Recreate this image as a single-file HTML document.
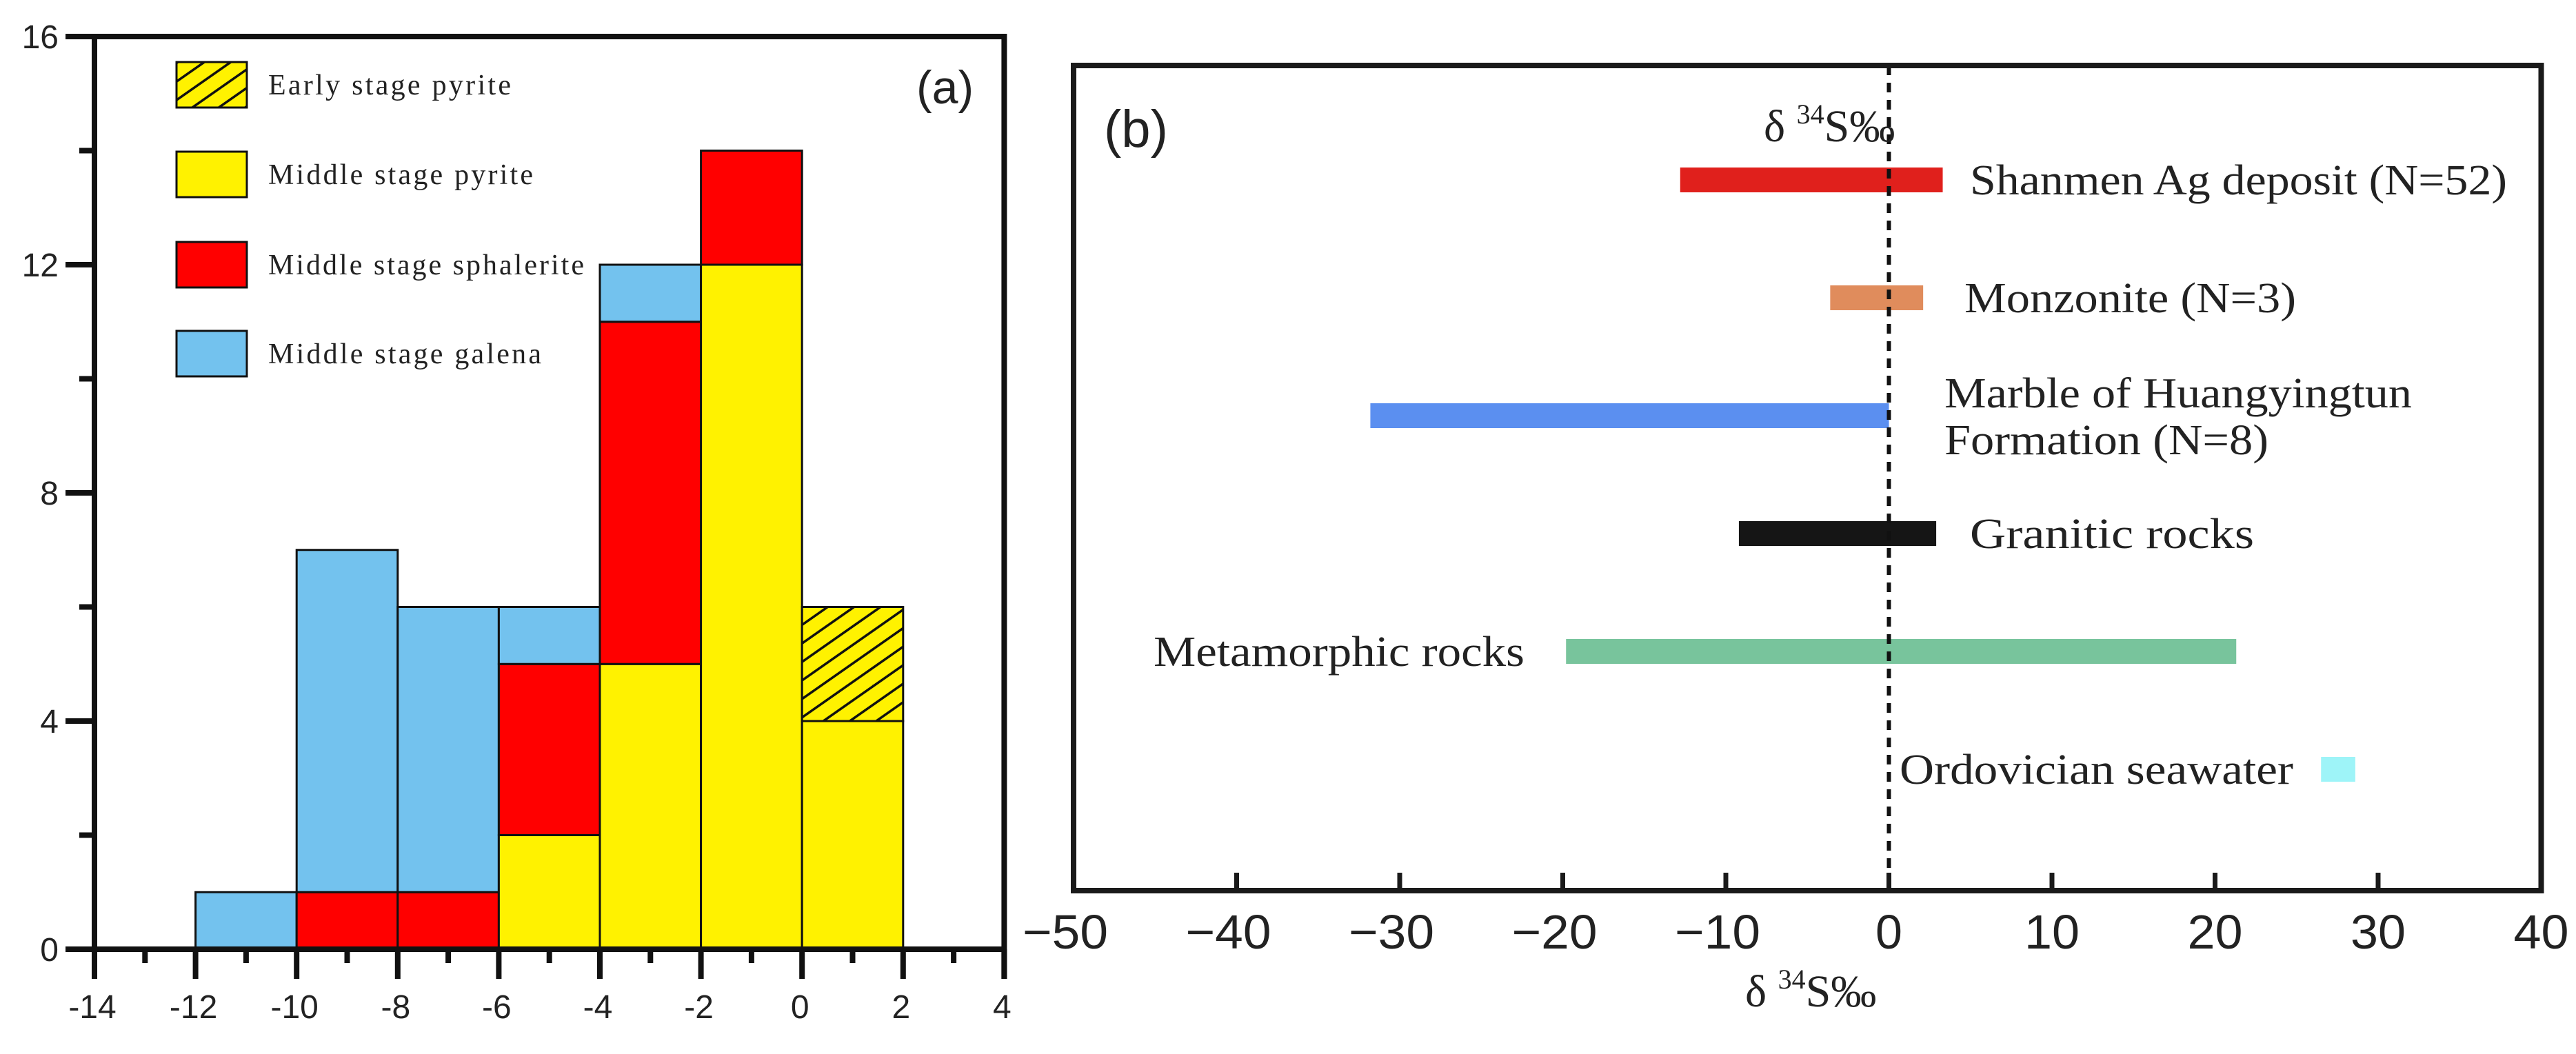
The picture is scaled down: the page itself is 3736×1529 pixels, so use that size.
<!DOCTYPE html>
<html><head><meta charset="utf-8"><style>
html,body{margin:0;padding:0;background:#fff;}
svg{display:block;}
.sans{font-family:"Liberation Sans",sans-serif;fill:#222;}
.serif{font-family:"Liberation Serif",serif;fill:#222;}
</style></head><body>
<svg id="fig" width="3736" height="1529" viewBox="0 0 3736 1529" xmlns="http://www.w3.org/2000/svg">
<defs>
<pattern id="hatch" patternUnits="userSpaceOnUse" width="22" height="22" patternTransform="rotate(-35)">
<rect width="22" height="22" fill="#fff200"/>
<line x1="0" y1="0" x2="22" y2="0" stroke="#111" stroke-width="7"/>
</pattern>
</defs>
<g id="pa"></g>
<g id="pb"></g>
</svg>
<script>
// ---------- Panel (a) data ----------
const binStarts = [-12, -10, -8, -6, -4, -2, 0];
const midPyrite = [0, 0, 0, 2, 5, 12, 4];
const midSphalerite = [0, 1, 1, 3, 6, 2, 0];
const midGalena = [1, 6, 5, 1, 1, 0, 0];
const earlyPyrite = [0, 0, 0, 0, 0, 0, 2];
const xTicksA = [-14, -12, -10, -8, -6, -4, -2, 0, 2, 4];
const yTicksA = [0, 4, 8, 12, 16];
const legendLabels = ["Early stage pyrite", "Middle stage pyrite", "Middle stage sphalerite", "Middle stage galena"];

// ---------- Panel (b) data ----------
const rangeNames = ["Shanmen Ag deposit (N=52)", "Monzonite (N=3)", "Marble of Huangyingtun", "Granitic  rocks", "Metamorphic rocks", "Ordovician seawater"];
const rangeMin = [-12.8, -3.6, -31.8, -9.2, -19.8, 26.5];
const rangeMax = [3.3, 2.1, 0, 2.9, 21.3, 28.6];
const xTicksB = [-50, -40, -30, -20, -10, 0, 10, 20, 30, 40];

const NS = "http://www.w3.org/2000/svg";
function mk(parent, tag, attrs, text) {
  const e = document.createElementNS(NS, tag);
  for (const k in attrs) e.setAttribute(k, attrs[k]);
  if (text !== undefined) e.textContent = text;
  parent.appendChild(e);
  return e;
}

// ===== Panel A =====
const pa = document.getElementById('pa');
const ax = v => 137 + (v + 14) * 73.3;
const ay = v => 1377 - v * 82.75;

const stacks = [
  {vals: midPyrite, fill: '#fff200', name: 'bar-middle-pyrite'},
  {vals: midSphalerite, fill: '#ff0000', name: 'bar-middle-sphalerite'},
  {vals: midGalena, fill: '#73c2ee', name: 'bar-middle-galena'},
  {vals: earlyPyrite, fill: 'url(#hatch)', name: 'bar-early-pyrite'}
];
binStarts.forEach((b, i) => {
  let base = 0;
  stacks.forEach(s => {
    const v = s.vals[i];
    if (v > 0) {
      const r = mk(pa, 'rect', {x: ax(b), y: ay(base + v), width: ax(b + 2) - ax(b), height: ay(base) - ay(base + v), fill: s.fill, stroke: '#111', 'stroke-width': 3});
      
      
      base += v;
    }
  });
});

const fr = mk(pa, 'path', {d: `M${ax(-14)} ${ay(16)} H${ax(4)} V1420 M${ax(-14)} ${ay(16)} V${ay(0)} H${ax(4)}`, fill: 'none', stroke: '#111', 'stroke-width': 8});


for (let v = -14; v <= 4; v++) {
  const major = (v % 2 === 0);
  const t = mk(pa, 'line', {x1: ax(v), x2: ax(v), y1: 1377, y2: major ? 1420 : 1397, stroke: '#111', 'stroke-width': 8});
  
  
}
xTicksA.forEach(v => {
  const t = mk(pa, 'text', {x: ax(v) - 3, y: 1477, 'text-anchor': 'middle', 'font-size': 48, class: 'sans'}, String(v));
  
  
});
for (let v = 0; v <= 16; v += 2) {
  const major = (v % 4 === 0);
  const t = mk(pa, 'line', {x1: major ? 95 : 115, x2: 137, y1: ay(v), y2: ay(v), stroke: '#111', 'stroke-width': 8});
  
  
}
yTicksA.forEach(v => {
  const t = mk(pa, 'text', {x: 85, y: ay(v) + 17, 'text-anchor': 'end', 'font-size': 48, class: 'sans'}, String(v));
  
  
});
const legFills = ['url(#hatch)', '#fff200', '#ff0000', '#73c2ee'];
const legY = [90, 220, 351, 480];
const legW = [352, 384, 458, 396];
legendLabels.forEach((l, i) => {
  const r = mk(pa, 'rect', {x: 256, y: legY[i], width: 102, height: 66, fill: legFills[i], stroke: '#111', 'stroke-width': 3});
  
  
  const t = mk(pa, 'text', {x: 389, y: legY[i] + 47, 'font-size': 42, class: 'serif', textLength: legW[i], lengthAdjust: 'spacing'}, l);
  
  
});
const la = mk(pa, 'text', {x: 1329, y: 150, 'font-size': 68, class: 'sans'}, '(a)');



// ===== Panel B =====
const pb = document.getElementById('pb');
const bx = v => 1557 + (v + 50) * 23.65;
const rowY = i => 261 + i * 171;
const rangeColors = ['#e0201c', '#e08c5c', '#5b8ff0', '#151515', '#78c49c', '#9ef4f8'];

rangeNames.forEach((n, i) => {
  const r = mk(pb, 'rect', {x: bx(rangeMin[i]), y: rowY(i) - 18, width: bx(rangeMax[i]) - bx(rangeMin[i]), height: 36, fill: rangeColors[i]});
  
  
});
const dz = mk(pb, 'line', {x1: bx(0), x2: bx(0), y1: 95, y2: 1292, stroke: '#111', 'stroke-width': 6, 'stroke-dasharray': '14 11'});


const fb = mk(pb, 'rect', {x: 1557, y: 95, width: bx(40) - 1557, height: 1292 - 95, fill: 'none', stroke: '#1a1a1a', 'stroke-width': 8});


xTicksB.forEach(v => {
  const t = mk(pb, 'line', {x1: bx(v), x2: bx(v), y1: 1292, y2: 1266, stroke: '#1a1a1a', 'stroke-width': 7});
  
  
  const lbl = (v < 0 ? '\u2212' + Math.abs(v) : String(v));
  const attrs = {x: bx(v) - (v < 0 ? 12 : 0), y: 1376, 'text-anchor': 'middle', 'font-size': 70, class: 'sans'};
  if (v !== 0) { attrs.textLength = v < 0 ? 124 : 80; attrs.lengthAdjust = 'spacingAndGlyphs'; }
  const tl = mk(pb, 'text', attrs, lbl);
  
  
});
const labX = [2857, 2849, 2820, 2857, 1673, 2755];
const labW = [779, 481, 678, 412, 538, 571];
rangeNames.forEach((n, i) => {
  const t = mk(pb, 'text', {x: labX[i], y: (i === 2 ? 591 : rowY(i) + 21), 'font-size': 62, class: 'serif', textLength: labW[i], lengthAdjust: 'spacingAndGlyphs'}, n);
  
  
});
const t2 = mk(pb, 'text', {x: 2820, y: 659, 'font-size': 62, class: 'serif', textLength: 470, lengthAdjust: 'spacingAndGlyphs'}, 'Formation (N=8)');


function deltaTitle(x, y, name) {
  const g = mk(pb, 'text', {x: x, y: y, 'font-size': 66, class: 'serif'});
  
  
  mk(g, 'tspan', {}, 'δ ');
  mk(g, 'tspan', {'font-size': 40, dy: -26}, '34');
  mk(g, 'tspan', {dy: 26}, 'S‰');
}
deltaTitle(2558, 205, 'top-axis-title');
deltaTitle(2531, 1460, 'x-axis-title');
const lb = mk(pb, 'text', {x: 1601, y: 213, 'font-size': 76, class: 'sans'}, '(b)');


</script>
</body></html>
